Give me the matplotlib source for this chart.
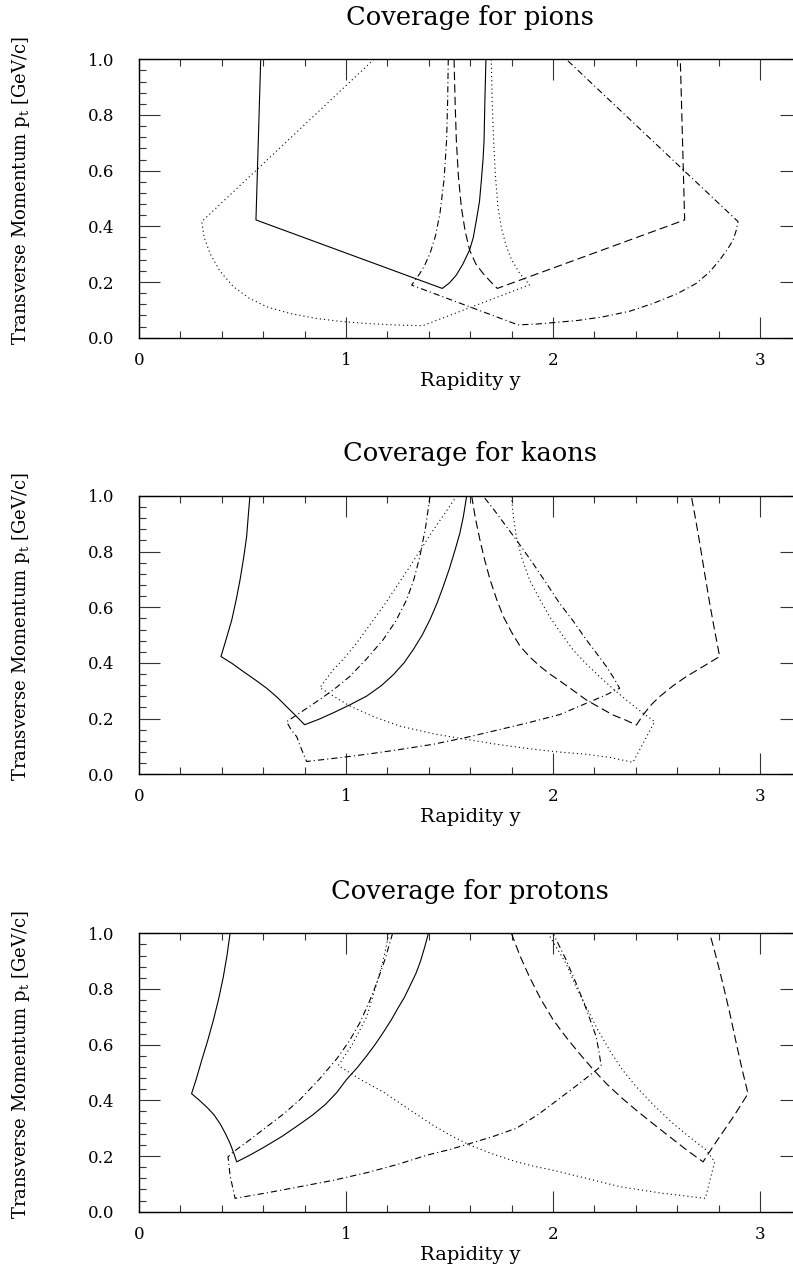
import matplotlib
matplotlib.use("Agg")
import matplotlib.pyplot as plt
from matplotlib.ticker import MultipleLocator

plt.rcParams['font.family'] = ['DejaVu Serif']
plt.rcParams['mathtext.fontset'] = 'dejavuserif'
plt.rcParams['lines.scale_dashes'] = False

# ---- pions ----
pi_solid_y = [0.588, 0.565, 1.465, 1.50, 1.533, 1.565, 1.597, 1.615, 1.630, 1.645, 1.654, 1.662, 1.667, 1.671, 1.676]
pi_solid_pt = [1.0, 0.423, 0.177, 0.197, 0.225, 0.265, 0.315, 0.36, 0.423, 0.49, 0.566, 0.64, 0.71, 0.854, 1.0]
pi_dot_y = [1.135, 0.303, 0.315, 0.343, 0.39, 0.456, 0.53, 0.617, 0.73, 0.858, 0.98, 1.10, 1.23, 1.370,
            1.887, 1.839, 1.80, 1.775, 1.752, 1.734, 1.722, 1.713, 1.706, 1.702]
pi_dot_pt = [1.0, 0.417, 0.36, 0.303, 0.24, 0.183, 0.143, 0.111, 0.087, 0.069, 0.058, 0.051, 0.046, 0.043,
             0.19, 0.231, 0.28, 0.327, 0.39, 0.47, 0.58, 0.71, 0.85, 1.0]
pi_dash_y = [1.522, 1.527, 1.533, 1.543, 1.557, 1.575, 1.597, 1.627, 1.662, 1.70, 1.731, 2.636, 2.626, 2.615]
pi_dash_pt = [1.0, 0.85, 0.71, 0.58, 0.47, 0.385, 0.315, 0.265, 0.231, 0.2, 0.177, 0.423, 0.7, 1.0]
pi_dd_y = [1.494, 1.491, 1.486, 1.474, 1.454, 1.432, 1.406, 1.38, 1.357, 1.317,
           1.831, 1.92, 2.0, 2.12, 2.242, 2.37, 2.483, 2.60, 2.692, 2.755, 2.805, 2.845, 2.870, 2.885, 2.894, 2.064]
pi_dd_pt = [1.0, 0.85, 0.71, 0.57, 0.447, 0.365, 0.303, 0.26, 0.231, 0.189,
            0.046, 0.049, 0.054, 0.062, 0.075, 0.095, 0.123, 0.158, 0.195, 0.235, 0.279, 0.32, 0.351, 0.385, 0.417, 1.0]

# ---- kaons ----
ka_solid_y = [0.536, 0.528, 0.52, 0.505, 0.488, 0.469, 0.448, 0.423, 0.396,
              0.45, 0.504, 0.56, 0.617, 0.667, 0.713, 0.758, 0.800,
              0.87, 0.939, 1.02, 1.1, 1.17, 1.229, 1.28, 1.325, 1.368, 1.406, 1.44, 1.470, 1.50, 1.527, 1.55, 1.567, 1.583]
ka_solid_pt = [1.0, 0.93, 0.854, 0.775, 0.698, 0.625, 0.554, 0.49, 0.423,
               0.398, 0.369, 0.34, 0.309, 0.277, 0.243, 0.21, 0.178,
               0.198, 0.221, 0.25, 0.281, 0.318, 0.358, 0.40, 0.448, 0.50, 0.556, 0.615, 0.675, 0.74, 0.806, 0.866, 0.926, 1.0]
ka_dot_y = [1.535, 1.48, 1.422, 1.365, 1.309, 1.245, 1.180, 1.115, 1.052, 0.995, 0.939, 0.874,
            0.95, 1.019, 1.14, 1.261, 1.42, 1.583, 1.745, 1.905, 2.03, 2.161, 2.28, 2.386, 2.491,
            2.42, 2.354, 2.29, 2.225, 2.16, 2.097, 2.04, 1.984, 1.935, 1.887, 1.85, 1.823, 1.808, 1.799]
ka_dot_pt = [1.0, 0.94, 0.878, 0.812, 0.747, 0.675, 0.603, 0.537, 0.472, 0.42, 0.376, 0.311,
             0.276, 0.245, 0.205, 0.173, 0.146, 0.125, 0.106, 0.090, 0.08, 0.072, 0.06, 0.043, 0.189,
             0.228, 0.267, 0.307, 0.351, 0.397, 0.447, 0.505, 0.566, 0.63, 0.698, 0.775, 0.854, 0.93, 1.0]
ka_dash_y = [1.607, 1.625, 1.647, 1.67, 1.696, 1.727, 1.760, 1.80, 1.841, 1.89, 1.937, 1.985, 2.034, 2.10, 2.161,
             2.225, 2.29, 2.35, 2.403, 2.435, 2.475, 2.515, 2.58, 2.644, 2.72, 2.805,
             2.78, 2.757, 2.733, 2.709, 2.688, 2.668]
ka_dash_pt = [1.0, 0.92, 0.842, 0.77, 0.699, 0.63, 0.567, 0.51, 0.46, 0.42, 0.388, 0.36, 0.335, 0.30, 0.267,
              0.24, 0.213, 0.195, 0.177, 0.213, 0.25, 0.279, 0.318, 0.351, 0.385, 0.423,
              0.52, 0.614, 0.72, 0.83, 0.92, 1.0]
ka_dd_y = [1.406, 1.385, 1.357, 1.328, 1.293, 1.24, 1.180, 1.10, 1.019, 0.945, 0.874, 0.778, 0.713,
           0.735, 0.762, 0.785, 0.81,
           0.95, 1.1, 1.26, 1.422, 1.585, 1.744, 1.89, 2.034, 2.161, 2.25, 2.322,
           2.29, 2.258, 2.21, 2.161, 2.10, 2.032, 1.968, 1.903, 1.84, 1.775, 1.72, 1.662]
ka_dd_pt = [1.0, 0.89, 0.783, 0.70, 0.627, 0.55, 0.484, 0.415, 0.352, 0.307, 0.269, 0.221, 0.189,
            0.16, 0.135, 0.09, 0.046,
            0.058, 0.072, 0.089, 0.108, 0.133, 0.161, 0.187, 0.215, 0.255, 0.283, 0.309,
            0.35, 0.387, 0.435, 0.483, 0.548, 0.614, 0.686, 0.758, 0.824, 0.89, 0.945, 1.0]

# ---- protons ----
pr_solid_y = [0.44, 0.425, 0.407, 0.385, 0.359, 0.332, 0.303, 0.278, 0.254,
              0.292, 0.327, 0.36, 0.391, 0.418, 0.44, 0.458, 0.472,
              0.535, 0.6, 0.69, 0.778, 0.84, 0.9, 0.955, 1.003, 1.055, 1.1, 1.142, 1.18, 1.218, 1.25, 1.282, 1.309,
              1.338, 1.36, 1.38, 1.398]
pr_solid_pt = [1.0, 0.92, 0.842, 0.765, 0.687, 0.615, 0.544, 0.48, 0.424,
               0.40, 0.376, 0.35, 0.317, 0.28, 0.245, 0.21, 0.179,
               0.203, 0.23, 0.27, 0.315, 0.348, 0.385, 0.428, 0.475, 0.518, 0.56, 0.602, 0.644, 0.688, 0.73, 0.77, 0.811,
               0.856, 0.9, 0.95, 1.0]
pr_dot_y = [1.207, 1.185, 1.16, 1.13, 1.1, 1.065, 1.03, 0.963,
            1.07, 1.18, 1.30, 1.422, 1.51, 1.599, 1.71, 1.824, 1.91, 2.0, 2.16, 2.322, 2.53, 2.736, 2.781,
            2.741, 2.66, 2.58, 2.49, 2.403, 2.335, 2.274, 2.215, 2.161, 2.11, 2.064, 2.02, 1.976]
pr_dot_pt = [1.0, 0.92, 0.85, 0.775, 0.7, 0.65, 0.6, 0.525,
             0.475, 0.43, 0.37, 0.31, 0.272, 0.239, 0.207, 0.179, 0.163, 0.149, 0.12, 0.09, 0.066, 0.048, 0.179,
             0.221, 0.268, 0.317, 0.38, 0.448, 0.51, 0.579, 0.655, 0.735, 0.81, 0.89, 0.945, 1.0]
pr_dash_y = [1.799, 1.84, 1.887, 1.94, 2.0, 2.065, 2.129, 2.195, 2.258, 2.33, 2.403, 2.485, 2.564, 2.645, 2.725,
             2.765, 2.805, 2.875, 2.942, 2.914, 2.886, 2.855, 2.821, 2.79, 2.757]
pr_dash_pt = [1.0, 0.92, 0.842, 0.765, 0.69, 0.625, 0.567, 0.51, 0.46, 0.41, 0.364, 0.315, 0.269, 0.222, 0.179,
              0.225, 0.269, 0.345, 0.424, 0.51, 0.603, 0.71, 0.818, 0.91, 1.0]
pr_dd_y = [1.225, 1.19, 1.148, 1.11, 1.068, 1.015, 0.955, 0.87, 0.778, 0.70, 0.617, 0.535, 0.456, 0.43,
           0.44, 0.464, 0.62, 0.778, 0.94, 1.1, 1.25, 1.39, 1.50, 1.599, 1.71, 1.824, 1.93, 2.034, 2.135, 2.233,
           2.222, 2.209, 2.165, 2.113, 2.06, 2.0]
pr_dd_pt = [1.0, 0.91, 0.82, 0.75, 0.68, 0.612, 0.549, 0.475, 0.403, 0.352, 0.305, 0.258, 0.215, 0.197,
            0.13, 0.048, 0.068, 0.09, 0.113, 0.14, 0.17, 0.203, 0.223, 0.245, 0.27, 0.3, 0.35, 0.408, 0.465, 0.523,
            0.575, 0.627, 0.72, 0.818, 0.91, 1.0]

titles = ["Coverage for pions", "Coverage for kaons", "Coverage for protons"]
panels = [
    [(pi_solid_y, pi_solid_pt), (pi_dash_y, pi_dash_pt), (pi_dot_y, pi_dot_pt), (pi_dd_y, pi_dd_pt)],
    [(ka_solid_y, ka_solid_pt), (ka_dash_y, ka_dash_pt), (ka_dot_y, ka_dot_pt), (ka_dd_y, ka_dd_pt)],
    [(pr_solid_y, pr_solid_pt), (pr_dash_y, pr_dash_pt), (pr_dot_y, pr_dot_pt), (pr_dd_y, pr_dd_pt)],
]
styles = ['-', (0, (6, 3)), (0, (0.8, 2.2)), (0, (4.5, 2.2, 0.8, 2.2))]

W, H = 793, 1268
fig = plt.figure(figsize=(W / 100, H / 100), dpi=100)

left, width, height = 139 / W, 662.4 / W, 278.4 / H
bottoms = [(H - 337.7) / H, (H - 774.3) / H, (H - 1211.7) / H]

for i in range(3):
    ax = fig.add_axes([left, bottoms[i], width, height])
    for (xs, ys), ls in zip(panels[i], styles):
        ax.plot(xs, ys, color='black', lw=0.8, linestyle=ls)
    ax.set_xlim(0, 3.2)
    ax.set_ylim(0, 1.0)
    ax.xaxis.set_major_locator(MultipleLocator(1))
    ax.xaxis.set_minor_locator(MultipleLocator(0.2))
    ax.yaxis.set_major_locator(MultipleLocator(0.2))
    ax.yaxis.set_minor_locator(MultipleLocator(0.04))
    ax.yaxis.set_major_formatter(plt.FormatStrFormatter('%.1f'))
    ax.tick_params(which='both', direction='in', top=True, right=True, width=0.8, color='#333333')
    ax.tick_params(which='major', length=15)
    ax.tick_params(which='minor', length=5)
    ax.tick_params(axis='x', which='major', pad=10, labelsize=12)
    ax.tick_params(axis='y', which='major', pad=18, labelsize=12)
    for s in ax.spines.values():
        s.set_linewidth(1.0)
    ax.set_title(titles[i], fontsize=18.5, pad=25)
    ax.set_xlabel("Rapidity y", fontsize=14)
    ax.xaxis.set_label_coords(0.5, -0.122)
    ax.xaxis.label.set_va('top')
    ax.set_ylabel("Transverse Momentum p$_{\\rm t}$ [GeV/c]", fontsize=13)
    ax.yaxis.set_label_coords(-0.178, 0.53)
    ax.yaxis.label.set_va('center')

fig.savefig("out.png", dpi=100)
